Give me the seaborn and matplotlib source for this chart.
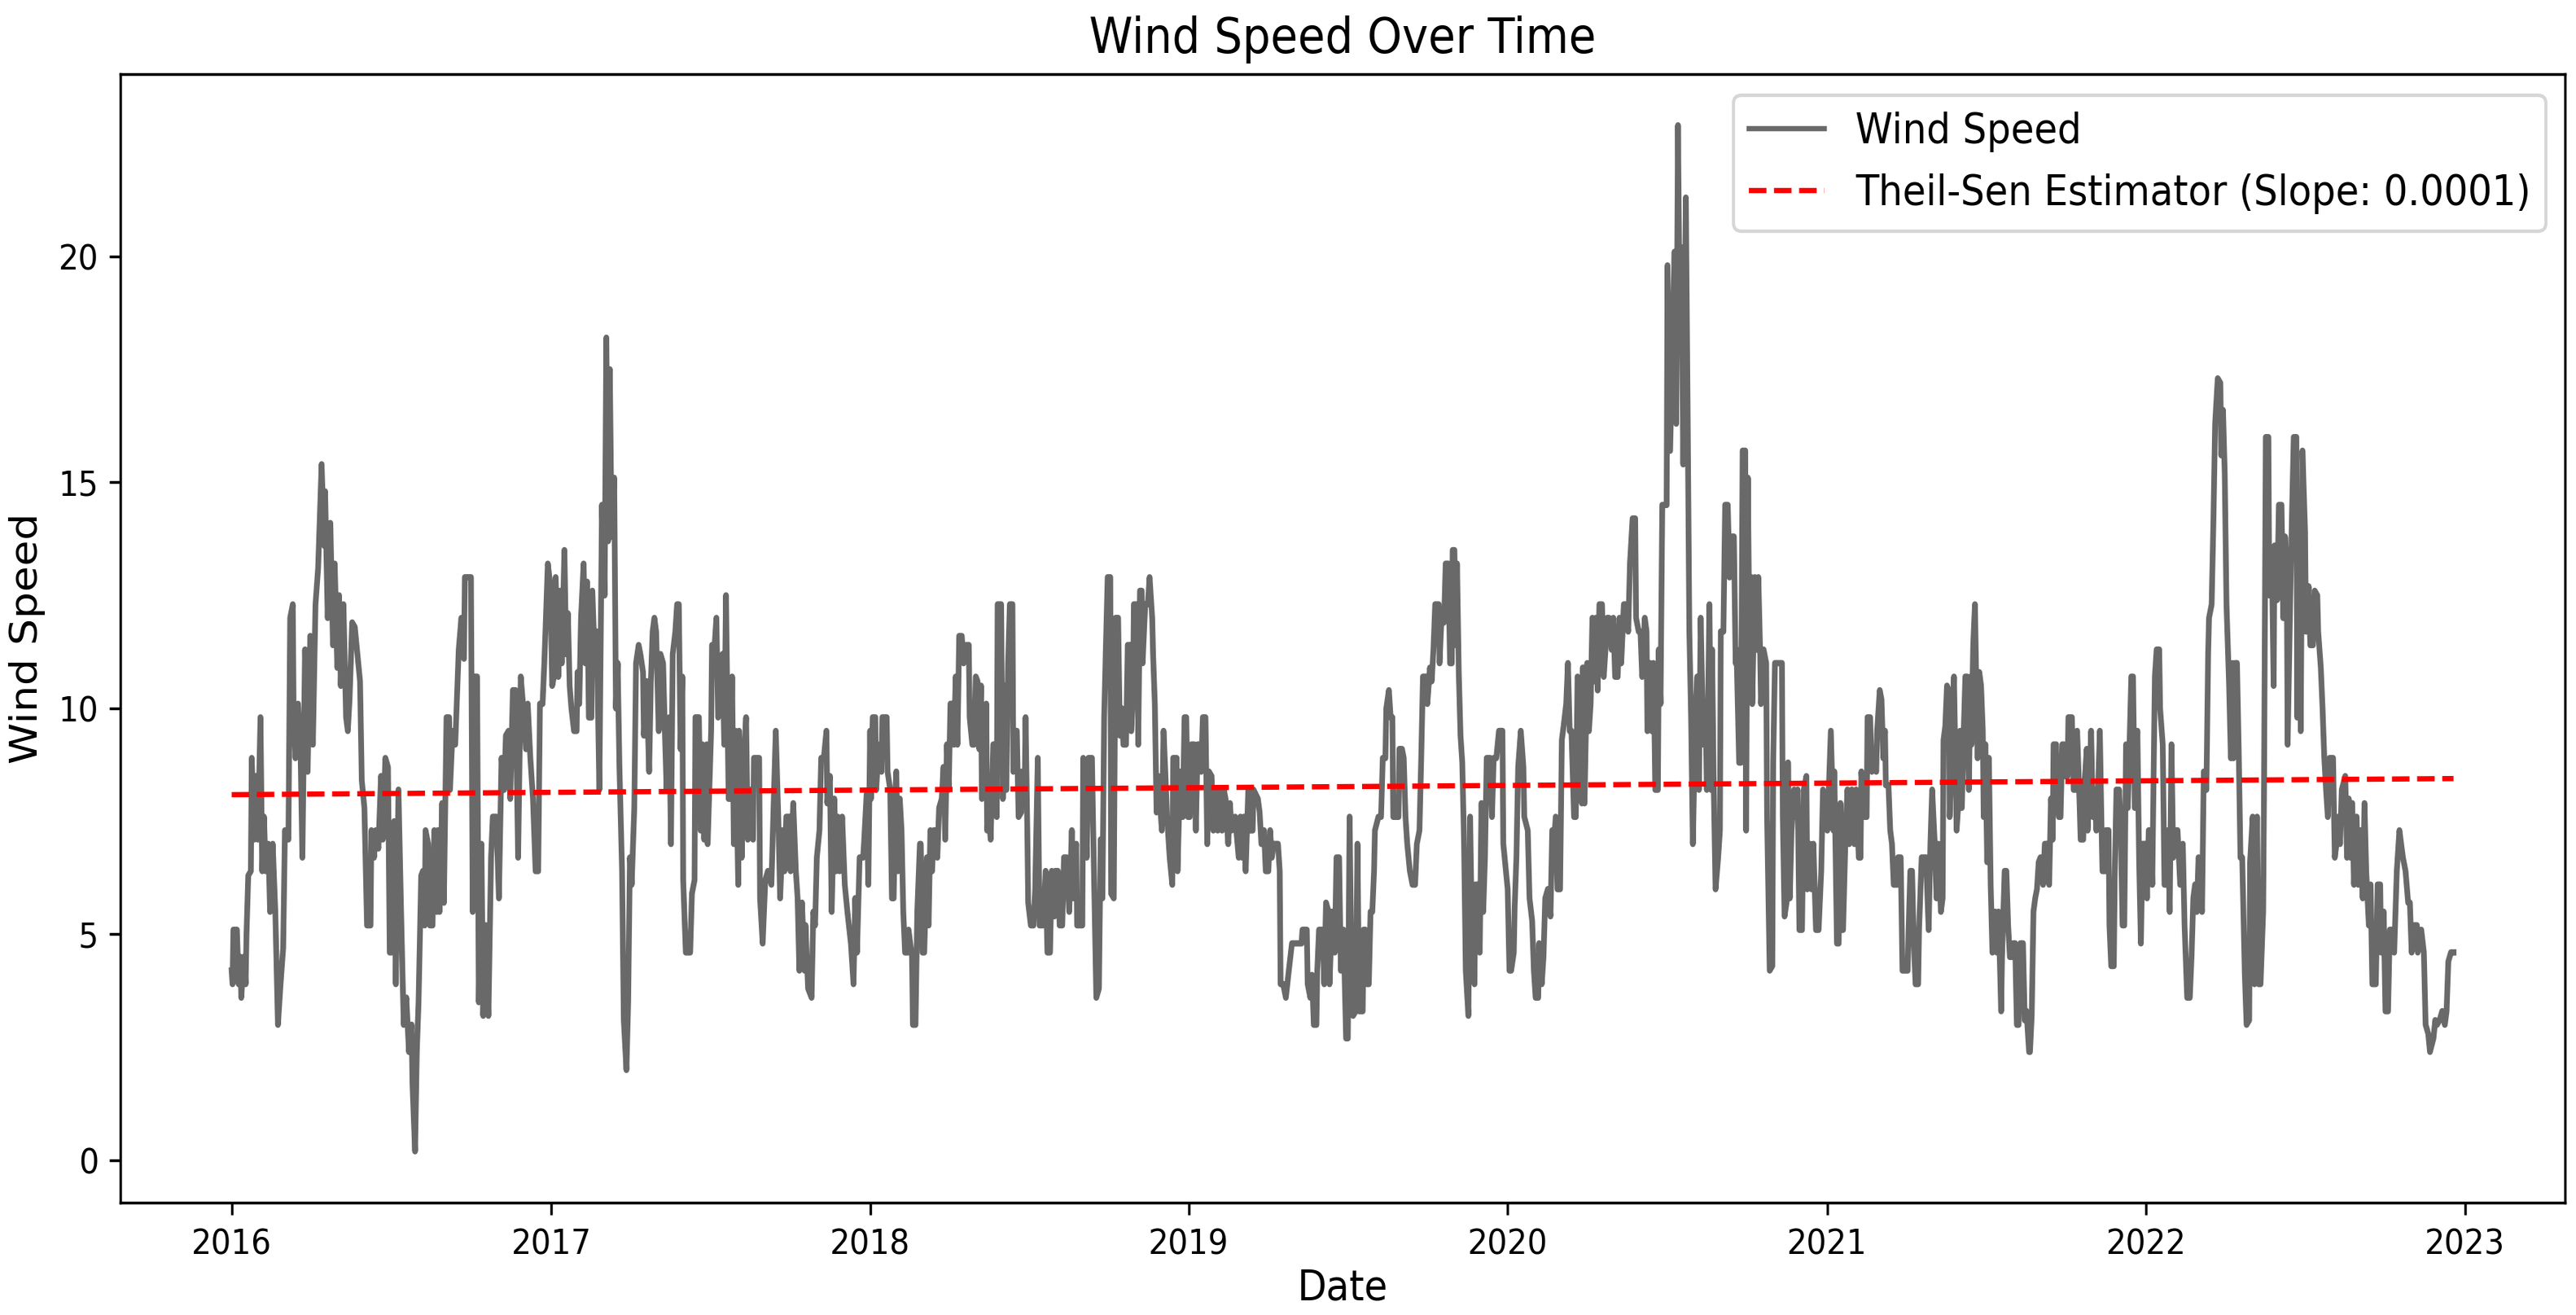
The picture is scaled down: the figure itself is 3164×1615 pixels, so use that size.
import matplotlib
matplotlib.use("Agg")
import matplotlib.pyplot as plt
import seaborn as sns
import numpy as np
import pandas as pd

# ---- data (day offset from 2016-01-01, wind speed) ----
start_date = "2016-01-01"
day_offsets = [
 0,1,2,6,8,10,11,14,16,17,19,22,23,26,28,30,33,35,37,39,42,44,47,50,53,56,59,61,65,67,70,71,73,76,79,81,84,87,90,93,96,99,
 103,106,107,110,113,116,118,121,123,125,128,131,133,135,138,141,145,147,149,152,155,159,160,163,165,168,171,173,176,179,
 181,183,186,188,191,194,197,200,203,206,207,210,212,214,217,219,221,222,225,227,230,232,235,236,238,241,243,246,249,250,
 253,256,260,263,266,267,274,276,278,281,283,286,288,291,294,297,299,303,306,309,312,314,317,319,322,325,328,331,334,337,
 339,342,345,348,351,353,356,358,362,365,367,
 369,371,374,376,378,381,383,385,387,389,392,395,396,398,400,403,405,407,409,412,413,416,418,421,423,424,427,429,431,433,
 435,438,440,442,444,447,449,452,454,456,458,461,463,466,468,471,472,475,478,480,482,484,486,489,491,494,496,498,501,503,
 505,508,510,512,514,516,517,520,525,527,530,531,535,537,539,541,544,545,549,550,553,555,557,559,562,564,566,569,571,573,
 575,577,580,581,584,586,589,591,594,597,598,604,605,608,611,614,618,620,623,626,628,631,633,635,639,640,643,646,648,650,
 653,656,657,660,664,666,668,670,673,675,678,681,682,685,687,690,692,694,696,699,702,705,709,712,714,716,719,723,724,727,
 729,731,
 732,734,737,738,740,742,744,745,750,751,754,756,758,760,761,763,765,767,769,771,774,775,779,780,783,785,788,789,791,793,
 796,798,800,802,804,807,808,810,813,815,817,819,821,823,825,827,829,831,833,836,838,841,844,845,848,850,852,854,856,858,
 859,862,864,865,867,869,872,874,876,877,881,883,885,887,889,891,894,895,897,899,901,904,905,908,909,911,912,915,918,920,
 923,925,929,932,934,937,939,942,943,946,948,951,953,956,959,962,964,967,968,974,975,979,981,985,987,990,993,995,997,999,
 1001,1003,1006,1007,1010,1012,1015,1017,1019,1021,1024,1026,1029,1030,1032,1033,1037,1038,1040,1042,1043,1046,1049,1051,
 1054,1055,1057,1059,1061,1065,1067,1069,1071,1074,1077,1078,1082,1083,1086,1089,1091,1093,1095,
 1097,1099,1102,1104,1106,1109,1110,1112,1115,1117,1119,1122,1124,1127,1129,1131,1134,1136,1138,1141,1143,1145,1149,1153,
 1155,1157,1159,1161,1164,1166,1169,1170,1175,1177,1179,1182,1184,1187,1189,1191,1193,1198,1200,1201,1204,1207,1211,1214,
 1218,1221,1225,1226,1231,1232,1235,1237,1239,1242,1243,1245,1249,1251,1253,1256,1257,1260,1263,1265,1268,1270,1273,1276,
 1278,1280,1282,1284,1287,1289,1291,1295,1296,1298,1300,1302,1304,1306,1308,1309,1313,1316,1318,1321,1322,1325,1327,1329,
 1330,1336,1337,1340,1342,1344,1346,1349,1352,1355,1357,1360,1362,1364,1368,1369,1372,1374,1376,1378,1382,1383,1385,1388,
 1389,1390,1393,1395,1397,1398,1400,1402,1403,1405,1407,1409,1411,1413,1416,1418,1420,1423,1424,1427,1429,1431,1433,1435,
 1437,1441,1443,1445,1448,1451,1455,1456,1459,
 1461,1463,1465,1468,1469,1471,1473,1476,1479,1480,1484,1486,1489,1491,1493,1496,1497,1500,1502,1504,1507,1510,1512,1515,
 1516,1518,1521,1523,1525,1528,1530,1532,1534,1537,1539,1541,1543,1546,1547,1549,1552,1554,1556,1558,1560,1562,1564,1566,
 1569,1571,1573,1575,1577,1580,1582,1584,1587,1589,1591,1594,1596,1599,1601,1604,1607,1608,1611,1613,1615,1618,1620,1621,
 1624,1626,1628,1630,1633,1634,1636,1638,1643,1644,1647,1652,1654,1656,1658,1660,1662,1665,1667,1669,1671,1673,1676,1678,
 1680,1682,1685,1688,1689,1692,1694,1695,1697,1699,1702,1704,1705,1708,1710,1713,1715,1717,1720,1722,1723,1726,1728,1730,
 1733,1734,1736,1738,1740,1741,1744,1746,1748,1750,1751,1754,1757,1758,1761,1764,1765,1767,1775,1776,1778,1781,1782,1784,
 1786,1789,1791,1793,1795,1798,1800,1803,1804,1807,1809,1811,1814,1817,1820,1822,
 1824,1827,1831,1834,1835,1838,1840,1842,1843,1845,1848,1850,1852,1855,1858,1860,1863,1865,1866,1870,1872,1873,1876,1878,
 1880,1883,1884,1887,1889,1891,1893,1894,1897,1899,1901,1903,1907,1908,1911,1913,1919,1920,1922,1924,1926,1928,1931,1932,
 1935,1940,1943,1945,1947,1950,1952,1954,1957,1959,1960,1962,1964,1966,1967,1970,1972,1975,1977,1979,1981,1983,1985,1987,
 1989,1991,1992,1994,1996,1999,2001,2003,2005,2006,2008,2010,2012,2014,2016,2019,2021,2023,2026,2027,2030,2032,2034,2036,
 2038,2040,2042,2044,2046,2048,2051,2053,2055,2058,2059,2061,2063,2065,2067,2069,2071,2074,2076,2079,2081,2083,2085,2086,
 2089,2090,2092,2094,2096,2098,2099,2102,2103,2107,2109,2111,2113,2115,2117,2120,2121,2124,2125,2127,2129,2131,2133,2135,
 2137,2139,2141,2142,2145,2146,2149,2150,2152,2155,2156,2158,2159,2161,2163,2165,2167,2169,2171,2173,2175,2177,2179,2182,
 2184,2186,
 2188,2191,2193,2195,2197,2199,2202,2204,2207,2208,2211,2213,2215,2217,2219,2221,2223,2225,2228,2231,2234,2236,2239,2242,
 2244,2246,2248,2250,2252,2256,2258,2261,2263,2264,2267,2269,2271,2274,2277,2278,2280,2282,2284,2287,2289,2291,2292,2294,
 2296,2298,2300,2302,2305,2307,2310,2311,2314,2316,2319,2321,2323,2326,2327,2329,2332,2333,2336,2338,2339,2342,2344,2347,
 2349,2351,2353,2354,2357,2359,2361,2364,2365,2367,2369,2371,2374,2375,2378,2380,2383,2385,2388,2389,2392,2394,2396,2398,
 2400,2402,2406,2408,2410,2412,2414,2416,2420,2422,2424,2426,2428,2430,2433,2435,2438,2440,2442,2444,2447,2449,2451,2455,
 2457,2460,2461,2464,2466,2469,2471,2474,2476,2479,2482,2484,2486,2489,2492,2494,2496,2499,2502,2503,2507,2510,2512,2515,
 2517,2521,2523,2525,2528,2531,2534,2536,2538,2541,2544,
]
wind_speed = [
 4.2,3.9,5.1,5.1,3.9,4.5,3.6,4.5,3.9,5.0,6.3,6.4,8.9,7.1,8.5,7.1,9.8,6.4,7.6,6.4,7.0,5.5,7.0,5.5,3.0,3.9,4.7,7.3,7.1,12.0,12.3,9.8,8.9,10.1,8.9,6.7,11.3,8.6,11.6,9.2,12.3,13.1,
 15.4,13.6,14.8,12.0,14.1,11.4,13.2,10.9,12.5,10.5,12.3,9.8,9.5,10.2,11.9,11.8,11.0,10.6,8.4,7.8,5.2,5.2,7.3,6.7,7.3,6.9,8.5,7.1,8.9,8.7,
 4.6,4.6,7.5,3.9,8.2,5.5,3.0,3.6,2.4,3.0,1.7,0.2,2.4,3.5,6.3,6.4,5.2,7.3,7.0,5.2,5.2,7.3,5.5,7.3,5.5,7.9,5.7,9.8,9.8,8.2,
 9.5,9.2,11.3,12.0,11.1,12.9,12.9,5.5,10.7,10.7,3.5,7.0,3.2,5.2,3.2,6.7,7.6,7.6,5.8,8.9,8.2,9.4,9.5,8.0,10.4,10.4,6.7,10.7,10.0,9.1,
 10.1,8.9,8.0,6.4,6.4,10.1,10.1,11.0,13.2,12.7,10.5,
 10.7,12.9,10.7,12.6,11.0,13.5,11.2,12.1,10.5,10.0,9.5,9.5,10.8,10.1,12.0,13.2,11.0,12.8,9.8,9.8,12.6,10.9,11.7,8.2,12.5,14.5,12.5,18.2,13.7,17.5,
 13.8,15.1,10.0,11.0,8.7,6.4,3.1,2.0,3.5,6.7,6.1,7.8,11.0,11.4,11.2,10.8,9.4,10.6,8.6,10.6,11.7,12.0,11.7,9.5,11.2,11.0,9.5,8.2,9.8,7.0,
 11.2,11.7,12.3,12.3,9.1,10.7,6.2,4.6,4.6,5.9,6.2,9.8,9.8,7.3,9.2,7.1,9.2,7.0,9.5,11.4,11.4,12.0,9.8,10.0,11.2,9.2,12.5,8.0,8.0,10.7,
 7.0,9.5,6.1,9.5,6.7,8.7,9.8,7.1,8.2,7.1,8.9,8.9,5.8,4.8,6.2,6.4,6.1,7.5,9.5,7.5,5.8,7.3,6.4,7.6,7.6,6.4,7.9,6.4,5.8,4.2,
 5.7,4.2,5.2,3.8,3.6,5.5,5.2,6.7,7.3,8.9,8.9,9.5,7.9,8.5,5.5,8.0,6.4,7.6,6.4,7.6,6.1,5.5,4.8,3.9,5.8,4.6,6.7,6.7,7.0,8.1,
 6.1,9.5,
 8.0,9.8,9.8,8.2,8.9,9.2,8.6,9.8,9.8,8.6,8.2,5.8,5.8,8.2,8.6,6.4,8.0,7.3,5.5,4.6,4.6,5.1,4.5,3.0,3.0,5.5,7.0,7.0,4.6,4.6,
 6.7,5.2,7.3,6.4,7.3,7.3,6.7,7.8,8.0,8.7,7.1,9.2,8.2,10.1,10.1,9.2,10.7,9.2,11.6,11.6,11.0,11.4,11.4,9.8,9.2,9.2,10.7,10.6,9.1,10.5,
 8.0,8.1,10.1,7.3,7.6,7.1,9.2,9.2,7.6,12.3,12.3,8.0,10.5,8.2,11.0,12.3,12.3,8.6,9.5,9.5,7.6,7.7,8.6,8.2,9.8,7.3,5.7,5.2,5.2,6.0,
 8.9,5.2,5.2,6.4,4.6,4.6,6.4,5.4,6.4,6.4,5.2,5.2,6.7,6.7,5.5,7.3,5.8,7.0,5.2,5.2,8.9,6.7,8.9,8.9,6.7,3.6,3.8,7.1,5.8,9.8,
 11.4,12.9,12.9,5.9,5.8,12.0,12.0,9.4,10.0,9.2,9.2,11.4,11.4,9.5,10.3,12.3,12.3,9.2,12.6,12.6,11.0,12.3,12.3,12.9,
 12.0,11.2,10.1,7.7,8.5,7.3,9.5,8.6,7.6,6.7,6.1,8.9,8.9,6.4,8.6,7.6,9.8,9.8,7.6,
 7.6,9.2,9.2,7.3,9.2,9.2,8.6,9.8,9.8,7.0,8.6,8.5,7.3,8.2,7.3,8.2,7.3,8.2,8.0,7.0,7.9,7.3,7.6,6.7,
 7.6,6.7,7.6,6.4,8.2,7.3,7.3,8.2,8.0,7.7,7.0,7.3,6.4,6.4,7.3,6.7,7.0,7.0,6.4,3.9,3.9,3.6,4.3,4.8,
 4.8,4.8,4.8,5.1,5.1,3.9,3.6,4.1,3.0,3.0,4.2,5.1,5.1,3.9,5.7,5.5,3.9,5.5,4.6,6.7,6.7,4.2,5.1,2.7,
 2.7,7.6,4.5,3.2,3.3,7.0,3.3,3.3,5.1,5.1,3.9,3.9,5.5,5.5,6.4,7.3,7.6,7.6,8.9,8.9,10.0,10.4,9.8,9.8,
 7.6,7.6,9.1,9.1,8.9,7.6,7.0,6.4,6.1,6.1,7.0,7.3,8.9,10.7,10.7,10.1,10.9,10.6,11.3,12.3,12.3,11.0,11.9,11.9,
 12.5,13.2,13.2,11.0,11.0,13.5,13.5,11.4,13.2,10.8,9.4,8.8,7.1,4.2,3.2,7.6,5.1,3.9,6.1,6.1,4.6,7.9,5.5,6.7,
 8.9,8.9,7.6,8.9,8.9,9.5,9.5,7.0,6.4,
 6.0,4.2,4.2,4.6,5.6,6.7,8.7,9.5,8.7,7.6,7.3,5.8,5.3,4.2,3.6,3.6,4.8,3.9,4.5,5.8,6.0,5.4,7.3,7.3,
 7.6,6.0,6.0,9.3,9.6,10.1,11.0,9.5,9.5,7.6,7.6,10.7,10.4,7.9,10.9,7.9,11.0,9.5,10.1,12.0,10.6,12.0,10.4,12.3,
 12.3,10.7,11.3,12.0,12.0,11.3,12.0,10.7,10.7,12.0,11.0,12.3,12.3,11.7,13.2,14.2,14.2,12.0,11.7,11.7,10.7,12.0,11.7,9.5,
 11.0,9.5,11.0,8.2,8.2,11.3,10.1,14.5,14.5,19.8,15.7,20.1,16.3,22.9,18.5,20.2,15.4,21.3,16.7,11.7,9.8,7.0,9.8,10.7,
 8.2,12.0,9.2,9.5,8.2,12.3,8.2,11.3,8.2,6.0,6.7,7.3,11.7,11.7,14.5,14.5,12.9,13.8,13.8,11.0,11.3,8.8,8.8,15.7,
 15.7,7.3,15.1,11.0,12.9,10.1,12.9,11.3,12.9,11.3,10.1,11.3,11.0,7.6,4.2,4.3,8.8,11.0,11.0,7.6,5.4,5.8,8.8,5.8,
 7.3,8.2,7.6,8.2,5.1,5.1,8.2,8.5,6.0,7.0,6.0,7.0,5.1,5.1,6.4,8.2,
 8.1,7.3,9.5,7.3,8.6,4.8,4.8,7.9,5.1,5.1,7.3,8.2,7.0,8.2,7.0,8.2,6.7,6.7,8.6,7.6,7.6,9.8,9.8,8.6,
 8.9,8.6,9.5,10.4,10.2,8.9,9.5,8.3,8.3,7.3,7.0,6.1,6.1,6.7,6.7,4.2,4.2,5.1,6.4,6.4,4.8,3.9,3.9,5.1,
 6.7,6.7,5.1,7.0,8.2,7.0,5.8,7.0,5.5,5.8,9.3,9.6,10.5,10.4,7.6,9.5,10.7,7.3,7.9,9.5,7.8,9.4,10.7,10.7,
 8.2,10.7,9.2,11.4,12.3,8.9,10.8,10.5,9.5,7.6,9.2,6.6,8.9,6.1,4.6,5.5,4.6,5.5,3.3,4.5,6.4,6.4,5.2,4.5,
 4.5,4.8,4.8,3.0,3.0,4.8,4.8,3.1,3.3,2.4,2.4,3.2,5.5,5.8,6.0,6.6,6.7,6.1,7.0,7.0,6.1,8.0,7.1,9.2,
 9.2,8.0,7.6,7.6,9.2,9.2,8.5,8.5,9.8,9.8,8.2,8.2,9.5,8.4,7.1,7.1,8.2,9.1,7.3,8.2,9.5,7.6,8.2,7.3,
 8.2,9.5,7.3,6.4,6.4,7.3,7.3,5.2,4.3,4.3,6.2,8.2,7.3,8.2,7.3,5.2,5.2,9.2,7.8,9.2,10.7,10.7,7.8,9.5,
 6.6,4.8,
 7.0,7.0,5.8,7.3,7.3,6.1,10.7,11.3,11.3,10.0,9.2,6.1,6.1,7.3,5.5,9.2,6.7,7.3,7.3,6.1,7.0,5.2,3.6,3.6,
 4.5,5.8,6.1,5.5,6.7,5.5,8.6,8.2,11.2,12.0,12.3,14.1,16.3,17.3,17.2,15.6,16.6,15.2,12.3,10.5,8.9,11.0,8.9,11.0,
 11.0,9.1,6.7,6.7,4.1,3.0,3.1,6.6,7.6,3.9,7.6,3.9,3.9,5.5,8.2,16.0,16.0,12.5,13.2,10.5,13.6,12.4,14.5,14.5,
 12.0,13.8,13.1,9.2,12.4,14.3,16.0,16.0,9.8,14.5,9.5,15.7,13.9,11.7,12.7,11.4,11.4,12.6,12.5,11.7,10.9,10.0,8.9,8.2,
 7.6,8.9,8.9,6.7,7.0,7.6,7.0,8.2,8.5,6.7,8.0,6.7,7.9,6.1,7.6,6.1,7.3,5.8,7.9,6.4,5.2,6.1,3.9,3.9,
 6.1,6.1,4.6,5.5,3.3,3.3,5.1,5.1,4.6,6.4,7.3,7.0,6.7,6.4,5.7,5.7,4.6,5.2,5.2,4.6,5.1,4.6,3.0,2.8,
 2.4,2.7,3.1,3.0,3.1,3.3,3.0,3.3,4.4,4.6,4.6,
]
# Theil-Sen trend: value at the first date and slope per day
trend_intercept = 8.09
trend_slope_per_day = 0.00014
series_label = "Wind Speed"
trend_label = "Theil-Sen Estimator (Slope: 0.0001)"

n = min(len(day_offsets), len(wind_speed))
days = np.array(day_offsets[:n])
dates = pd.Timestamp(start_date) + pd.to_timedelta(days, unit="D")
df = pd.DataFrame({"Date": dates, "Wind Speed": wind_speed[:n]})
df["Trend"] = trend_intercept + trend_slope_per_day * days

# The reference raster is horizontally condensed (~0.9) relative to its
# vertical scale: render wider, then resample to the final size.
OUT_W, OUT_H = 3164, 1615
DPI = 310
RENDER_W = 3510
fig = plt.figure(figsize=(RENDER_W / DPI, OUT_H / DPI), dpi=DPI)
ax = fig.add_axes([0.0468, 0.0855, 0.9488, 0.8582])

sns.lineplot(data=df, x="Date", y="Wind Speed", ax=ax, color="dimgray",
             linewidth=1.8, estimator=None, label=series_label)
sns.lineplot(data=df, x="Date", y="Trend", ax=ax, color="red", linestyle="--",
             linewidth=1.5, estimator=None, label=trend_label)

ax.set_title("Wind Speed Over Time", fontsize=14)
ax.set_xlabel("Date", fontsize=12, labelpad=2)
ax.set_ylabel("Wind Speed", fontsize=12)
ax.tick_params(labelsize=10)
leg = ax.legend(loc="upper right", fontsize=12)
leg.get_lines()[0].set_linewidth(1.5)

fig.savefig("out.png", dpi=DPI)

try:
    from PIL import Image
    im = Image.open("out.png")
    im = im.resize((OUT_W, OUT_H), Image.LANCZOS)
    im.save("out.png")
except Exception:
    fig.set_size_inches(OUT_W / 282, OUT_H / 282)
    fig.savefig("out.png", dpi=282)
